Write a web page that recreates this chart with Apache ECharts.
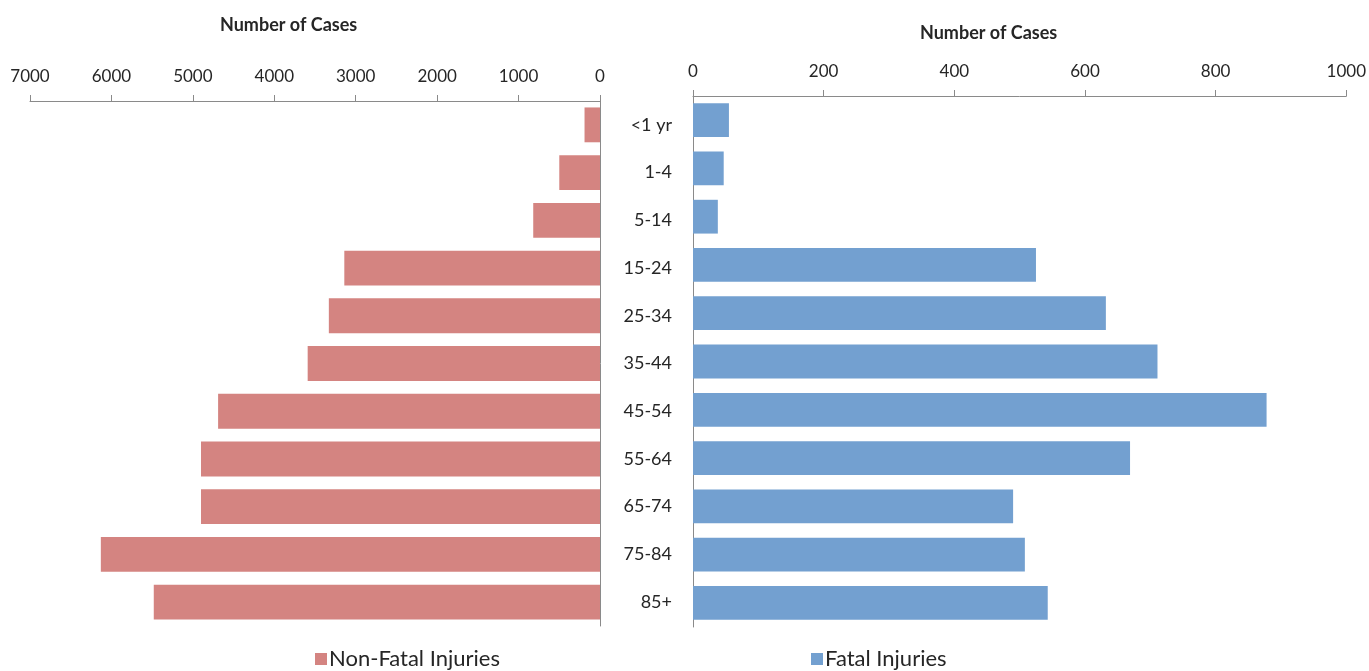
<!DOCTYPE html>
<html>
<head>
<meta charset="utf-8">
<script src="https://cdn.jsdelivr.net/npm/echarts@6/dist/echarts.min.js"></script>
<style>
html,body{margin:0;padding:0;background:#fff;}
#chart{width:1369px;height:671px;}
</style>
</head>
<body>
<div id="chart"></div>
<script>
const categories = ['<1 yr','1-4','5-14','15-24','25-34','35-44','45-54','55-64','65-74','75-84','85+'];
const nonFatal = [190, 500, 820, 3140, 3330, 3590, 4690, 4900, 4900, 6130, 5480];
const fatal = [55, 47, 38, 525, 632, 711, 878, 669, 490, 508, 543];
const axisTitle = 'Number of Cases';
const seriesNames = ['Non-Fatal Injuries', 'Fatal Injuries'];

const FONT = 'Lato';
const TXT = '#262626';
const chart = echarts.init(document.getElementById('chart'));
const axisLineStyle = {color: '#8a8a8a', width: 1};
const plain = v => String(v);
chart.setOption({
  backgroundColor: '#ffffff',
  animation: false,
  textStyle: {fontFamily: FONT},
  title: [
    {text: axisTitle, left: 215, top: 11, textStyle: {fontFamily: FONT, fontSize: 18, fontWeight: 'bold', color: TXT}},
    {text: axisTitle, left: 915, top: 19, textStyle: {fontFamily: FONT, fontSize: 18, fontWeight: 'bold', color: TXT}}
  ],
  legend: [
    {data: [seriesNames[0]], left: 315, top: 648, icon: 'rect', itemWidth: 12, itemHeight: 12, itemGap: 4, padding: 0,
     textStyle: {fontFamily: FONT, fontSize: 22, color: TXT, padding: [0,0,0,-3]}},
    {data: [seriesNames[1]], left: 811, top: 648, icon: 'rect', itemWidth: 12, itemHeight: 12, itemGap: 4, padding: 0,
     textStyle: {fontFamily: FONT, fontSize: 22, color: TXT, padding: [0,0,0,-3]}}
  ],
  grid: [
    {left: 30, width: 570, top: 101, height: 525},
    {left: 693, width: 655, top: 96, height: 531}
  ],
  xAxis: [
    {gridIndex: 0, type: 'value', min: 0, max: 7000, interval: 1000, inverse: true, position: 'top',
     axisLine: {show: true, lineStyle: axisLineStyle},
     axisTick: {show: true, length: 6, lineStyle: axisLineStyle},
     axisLabel: {fontFamily: FONT, fontSize: 17, color: TXT, margin: 16, formatter: plain},
     splitLine: {show: false}},
    {gridIndex: 1, type: 'value', min: 0, max: 1000, interval: 200, position: 'top',
     axisLine: {show: true, lineStyle: axisLineStyle},
     axisTick: {show: true, length: 6, lineStyle: axisLineStyle},
     axisLabel: {fontFamily: FONT, fontSize: 17, color: TXT, margin: 16, formatter: plain},
     splitLine: {show: false}}
  ],
  yAxis: [
    {gridIndex: 0, type: 'category', data: categories, inverse: true, position: 'right',
     axisLine: {show: true, lineStyle: axisLineStyle},
     axisTick: {show: false},
     axisLabel: {show: true, align: 'right', margin: 72, fontFamily: FONT, fontSize: 18, color: TXT}},
    {gridIndex: 1, type: 'category', data: categories, inverse: true, position: 'left',
     axisLine: {show: true, lineStyle: axisLineStyle},
     axisTick: {show: false},
     axisLabel: {show: false}}
  ],
  series: [
    {name: seriesNames[0], type: 'bar', xAxisIndex: 0, yAxisIndex: 0, data: nonFatal,
     barCategoryGap: '27%', itemStyle: {color: '#d48481'}},
    {name: seriesNames[1], type: 'bar', xAxisIndex: 1, yAxisIndex: 1, data: fatal,
     barCategoryGap: '30%', itemStyle: {color: '#73a0d0'}}
  ]
});
</script>
</body>
</html>
